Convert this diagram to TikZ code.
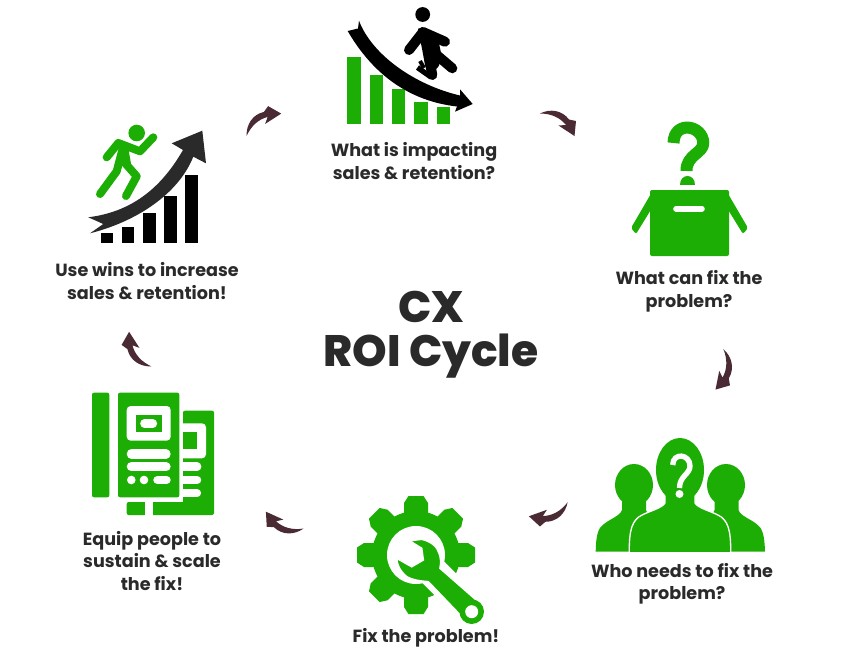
\documentclass[tikz,border=0pt]{standalone}
\usepackage{fontspec}
\setmainfont{Poppins}[BoldFont={Poppins Bold}]
\newfontfamily\cxtitlefont{Poppins ExtraBold}
\definecolor{cxgreen}{HTML}{1CAE04}
\definecolor{cxink}{HTML}{2A2A2A}
\definecolor{cxarrow}{HTML}{4A2B33}
\tikzset{
  x=0.75pt,y=-0.75pt,
  grn/.style={fill=cxgreen,draw=none},
  blk/.style={fill=black,draw=none},
  limbgreen/.style={draw=cxgreen,line width=6pt,line cap=round,line join=round},
  limbblack/.style={draw=black,line width=7.5pt,line cap=round,line join=round},
  pill/.style={draw=white,line cap=round},
  lab/.style={text=cxink,font=\bfseries\fontsize{13.2}{16.9}\selectfont,align=center,inner sep=0pt},
  title/.style={text=cxink,font=\cxtitlefont\fontsize{33}{33}\selectfont,align=center,inner sep=0pt},
  curl/.pic={
    \fill[cxarrow,line join=round] (-18,-11) .. controls (-8,-16) and (4,-14.5) .. (11,-5)
      -- (18,-3.5) -- (16.5,11.5) -- (0.5,1) -- (8,0.5)
      .. controls (2,-7) and (-7,-11) .. (-18,-11) -- cycle;
  }
}
\begin{document}
\begin{tikzpicture}
\useasboundingbox[fill=white] (0,0) rectangle (844,664);

% --- top icon
\fill[grn] (347.3,57.3) rectangle (360.7,124.3);
\fill[grn] (369.7,75) rectangle (383,124.3);
\fill[grn] (392,88.7) rectangle (405.3,124.3);
\fill[grn] (414.3,102) rectangle (427.7,124.3);
\fill[grn] (436.7,106.7) rectangle (450,124.3);
\fill[blk] (422.7,14.5) circle[radius=7.4];
\draw[limbblack] (409,50) -- (423,32) -- (445,41.7);
\fill[blk,rounded corners=3pt] (417,27) -- (437,33) -- (442,58.3) -- (437,70) -- (426,70) -- (421,43.3) -- cycle;
\draw[limbblack] (436.7,55) -- (452.3,68.3);
\draw[limbblack] (428.8,56.7) -- (432.3,75);
\draw[limbblack,line width=4pt,line cap=butt] (417.5,67.5) -- (431,77);
\draw[limbblack,line width=3pt,line cap=butt] (420,61) -- (424,68);
\fill[blk] (359,20.7) .. controls (372,55) and (415,85) .. (460,95.5)
  -- (460,89.3) -- (472.7,104) -- (455,111.7) -- (457,106.5)
  .. controls (408,101) and (372,73) .. (347.7,31) -- (358,28.5) -- cycle;

% --- box icon
\draw[draw=cxgreen,line width=9pt,line join=round] (673.5,143) .. controls (674,120) and (703,125) .. (703.3,143)
  .. controls (703.5,153) and (686,155) .. (686.5,171);
\fill[grn] (680,185) .. controls (680,173) and (694.5,173) .. (694.5,185) -- cycle;
\fill[grn,rounded corners=1.5pt] (650,190) rectangle (729,256);
\fill[grn,rounded corners=1.5pt] (652,192) -- (631,228) -- (636,234) -- (652,208) -- cycle;
\fill[grn,rounded corners=1.5pt] (727,192) -- (748,228) -- (743,234) -- (727,208) -- cycle;
\draw[pill,line width=4.2pt] (676,208.8) -- (702,208.8);

% --- people icon
\fill[grn] (595.7,551.7) .. controls (596,535) and (598,528) .. (604,524)
  .. controls (610,519) and (620,516) .. (622,510) -- (622,495) -- (646,495) -- (646,510) -- (660,540) -- (660,551.7) -- cycle;
\fill[grn] (765,551.7) .. controls (764.5,535) and (762.5,528) .. (756.5,524)
  .. controls (750.5,519) and (740.5,516) .. (738.5,510) -- (738.5,495) -- (714.5,495) -- (714.5,510) -- (700.5,540) -- (700.5,551.7) -- cycle;
\fill[grn] (634,485) ellipse[x radius=19,y radius=21];
\fill[grn] (726,485) ellipse[x radius=19,y radius=21];
\path[fill=cxgreen,draw=white,line width=1pt] (629.3,553) .. controls (629,530) and (632,520) .. (642,515)
  .. controls (650,511) and (662,508) .. (665,503) -- (665,490) -- (695,490) -- (695,503)
  .. controls (698,508) and (710,511) .. (718,515) .. controls (728,520) and (731,530) .. (730.7,553) -- cycle;
\fill[grn] (680,470) ellipse[x radius=24,y radius=32];
\fill[grn] (667,490) rectangle (693,505);
\draw[draw=white,line width=4pt] (672.7,465) .. controls (673,452) and (690,454) .. (690,466)
  .. controls (690,474) and (679.5,476) .. (679.5,488);
\fill[white] (679.5,494) circle[radius=4];
\fill[white] (580,551.7) rectangle (780,556);

% --- gear icon
\foreach \a in {0,45,...,315}{
  \fill[grn,shift={(416,555)},rotate=\a] (-12,-38) -- (-12,-52) -- (-7.5,-59) -- (7.5,-59) -- (12,-52) -- (12,-38) -- cycle;
}
\fill[grn] (416,555) circle[radius=44];
\fill[white] (416,555) circle[radius=29];
\draw[white,line width=23pt] (420,559) -- (480,619);
\fill[grn,draw=white,line width=1.2pt] (409.3,540.7) -- (421.7,539.3) .. controls (430,541) and (437,546) .. (439,553)
  .. controls (441,558) and (441,563) .. (440,568.3) -- (480,603.3) -- (465,620) -- (428.3,581.7)
  .. controls (420,581) and (412,580) .. (406.7,576.7) .. controls (400,571) and (397,565) .. (396.7,558.3)
  -- (411.7,566.7) -- (423.3,560) -- (421.7,548.3) -- cycle;
\fill[grn] (471.7,611.7) circle[radius=12.3];
\fill[white] (471.7,611.7) circle[radius=6.5];

% --- document icon
\fill[grn,rounded corners=1.5pt] (183,410.7) -- (214,410.7) -- (214,515) -- (126.7,515) -- (126.7,502) -- (183,502) -- cycle;
\fill[white] (144.7,501) rectangle (152.7,516);
\fill[white,rounded corners=3pt] (175,423.3) rectangle (206,458.3);
\fill[grn] (175,432.3) rectangle (196.7,449.3);
\draw[pill,line width=6.6pt] (180,466.8) -- (197,466.8);
\draw[pill,line width=6.4pt] (180,480) -- (197,480);
\draw[pill,line width=6.2pt] (180,493.2) -- (197,493.2);
\fill[white] (116,390) rectangle (183.3,502);
\fill[grn,rounded corners=1.5pt] (92,392.7) rectangle (109.3,497.3);
\fill[grn,rounded corners=1.5pt] (118,392.7) rectangle (179.3,497.3);
\fill[white,rounded corners=3pt] (126.7,406) rectangle (170.7,440.7);
\fill[grn] (135.7,414.7) rectangle (162,432.3);
\draw[pill,line width=6.5pt] (144.5,423.6) -- (152.8,423.6);
\draw[pill,line width=7pt] (131.4,454) -- (166,454);
\draw[pill,line width=7pt] (131.4,466.8) -- (166,466.8);
\fill[white] (131.3,480) circle[radius=4.3];
\fill[white] (144,480) circle[radius=4.3];
\draw[pill,line width=6.5pt] (157.6,480) -- (166.4,480);

% --- runner icon
\fill[blk] (100.7,232.7) rectangle (113.3,242.7);
\fill[blk] (121.7,226.7) rectangle (134.3,242.7);
\fill[blk] (143,213.3) rectangle (155.7,242.7);
\fill[blk] (164,196.3) rectangle (176.7,242.7);
\fill[blk] (185.3,175.3) rectangle (198,242.7);
\fill[grn] (136.7,133) circle[radius=8.3];
\draw[limbgreen] (106.7,157.3) -- (118.3,143) -- (140,151.3) -- (153.3,137.3);
\draw[limbgreen] (124,147) -- (127,164);
\draw[limbgreen] (125,163) -- (136.7,176.3) -- (126,196);
\draw[limbgreen] (123.3,146.3) -- (116.7,171.3) -- (100,194);
\fill[fill=cxink] (88.3,217.3) .. controls (130,212) and (160,190) .. (183,150)
  -- (171.7,143.3) -- (202.3,130.7) -- (206,163.3) -- (193.3,156.7)
  .. controls (178,195) and (135,222) .. (90,233.3) -- (103.3,224) -- cycle;

% --- labels
\node[lab] (impact) at (414,161) {What is impacting\\sales \& retention?};
\node[lab] (canfix) at (689,291.5) {What can fix the\\problem?};
\node[lab] (whofix) at (682,584) {Who needs to fix the\\problem?};
\node[lab] (fixit) at (426,638) {Fix the problem!};
\node[lab] (equip) at (152,561) {Equip people to\\sustain \& scale\\the fix!};
\node[lab] (usewins) at (147,281) {Use wins to increase\\sales \& retention!};
\node[title] (cxroi) at (431,334.5) {CX\\ROI Cycle};

% --- cycle arrows
\pic (arrA) at (558,124.5) {curl};
\pic (arrB) [rotate=66] at (264,124) {curl};
\pic (arrC) [rotate=-68] at (720,370) {curl};
\pic (arrD) [rotate=-127] at (548,510) {curl};
\pic (arrE) [rotate=189] at (284,520.5) {curl};
\pic (arrF) [rotate=156] at (139.5,349) {curl};
\end{tikzpicture}
\end{document}
